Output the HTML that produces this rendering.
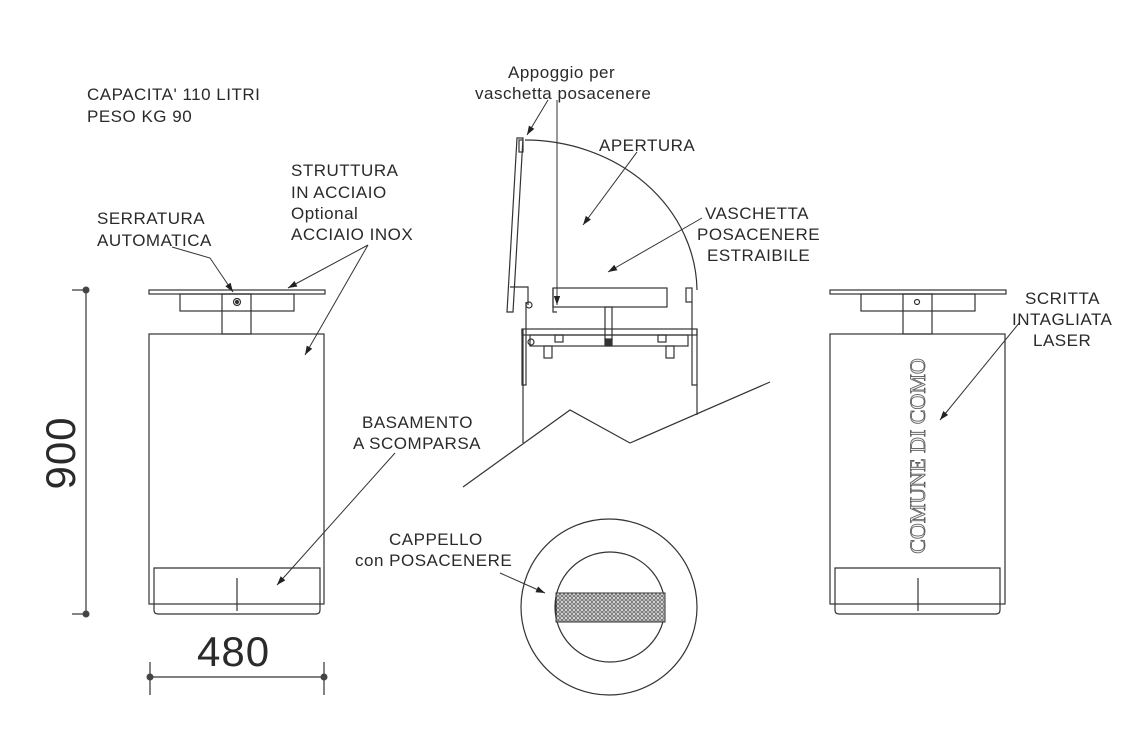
<!DOCTYPE html>
<html><head><meta charset="utf-8"><style>
html,body{margin:0;padding:0;background:#fff;}
svg{display:block;}
text{font-family:"Liberation Sans",sans-serif;fill:#2a2a2a;font-size:17px;letter-spacing:0.5px;}
</style></head><body>
<svg width="1145" height="738" viewBox="0 0 1145 738" xmlns="http://www.w3.org/2000/svg">
<defs>
<marker id="a" viewBox="0 0 10 10" refX="10" refY="5" markerWidth="17" markerHeight="9" orient="auto" markerUnits="userSpaceOnUse"><path d="M0,1.5 L10,5 L0,8.5 Z" fill="#222"/></marker>
<pattern id="h" width="4" height="4" patternUnits="userSpaceOnUse"><rect width="4" height="4" fill="#bbb"/><circle cx="2" cy="2" r="1.3" fill="#fff" stroke="#444" stroke-width="0.6"/></pattern>
</defs>
<g stroke="#333" stroke-width="1.2" fill="none">
<rect x="149" y="290" width="176" height="4"/>
<rect x="180" y="294" width="114" height="17"/>
<rect x="222" y="294" width="29" height="40"/>
<circle cx="237" cy="302" r="3.5"/><circle cx="237" cy="302" r="1.5" fill="#333"/>
<rect x="149" y="334" width="175" height="270"/>
<path d="M154,604 V568 H320 V604 M154,604 V610 Q154,614 158,614 H316 Q320,614 320,610 V604"/>
<line x1="237" y1="578" x2="237" y2="611"/>
<line x1="86" y1="290" x2="86" y2="614"/><line x1="72" y1="290" x2="86" y2="290"/><line x1="72" y1="614" x2="86" y2="614"/>
<line x1="150" y1="677" x2="324" y2="677"/><line x1="150" y1="662" x2="150" y2="695"/><line x1="324" y1="662" x2="324" y2="695"/>
<rect x="830" y="290" width="176" height="4"/>
<rect x="861" y="294" width="114" height="17"/>
<rect x="903" y="294" width="29" height="40"/>
<circle cx="917" cy="302" r="2.5"/>
<rect x="830" y="334" width="175" height="270"/>
<path d="M835,604 V568 H1000 V604 M835,604 V610 Q835,614 839,614 H996 Q1000,614 1000,610 V604"/>
<line x1="918" y1="578" x2="918" y2="611"/>
<path d="M517,138 L523,138 L513,312 L507,312 Z"/>
<rect x="519" y="140" width="4" height="12"/>
<path d="M525,140 A172 152 0 0 1 697,290"/>
<path d="M510,287 H528 V305"/>
<circle cx="529" cy="305" r="3"/>
<rect x="553" y="288" width="114" height="19"/>
<path d="M553,288 V312 H557"/>
<rect x="605" y="307" width="7" height="33"/>
<rect x="686" y="288" width="6" height="14"/>
<rect x="522" y="329" width="175" height="6"/>
<rect x="530" y="335" width="158" height="11"/>
<circle cx="531" cy="342" r="3"/>
<rect x="555" y="335" width="8" height="7"/><rect x="658" y="335" width="8" height="7"/>
<rect x="544" y="346" width="8" height="12"/><rect x="666" y="346" width="8" height="12"/>
<rect x="605" y="339" width="7" height="7" fill="#333"/>
<path d="M526,302 V385 L522,385 V329"/>
<path d="M692,302 V385 L697,385"/>
<line x1="523" y1="329" x2="523" y2="443"/>
<line x1="697" y1="329" x2="697" y2="415"/>
<path d="M463,487 L570,410 L630,443 L770,382"/>
<circle cx="609" cy="607" r="88"/>
<circle cx="610" cy="607" r="55"/>
</g>
<rect x="556" y="593" width="109" height="29" fill="url(#h)" stroke="#333" stroke-width="1"/>
<g fill="#444"><circle cx="86" cy="290" r="3.5"/><circle cx="86" cy="614" r="3.5"/><circle cx="150" cy="677" r="3.5"/><circle cx="324" cy="677" r="3.5"/></g>
<g stroke="#333" stroke-width="1" fill="none" marker-end="url(#a)">
<path d="M172,247 L210,258 L233,292"/>
<path d="M368,245 L288,288"/>
<path d="M368,245 L305,355"/>
<path d="M395,453 L277,585"/>
<path d="M548,100 L527,135"/>
<path d="M557,100 V305"/>
<path d="M637,152 L583,225"/>
<path d="M702,218 L608,272"/>
<path d="M1020,322 L940,420"/>
<path d="M500,573 L545,593"/>
</g>
<text x="87" y="100">CAPACITA' 110 LITRI</text>
<text x="87" y="122">PESO KG 90</text>
<text x="97" y="224">SERRATURA</text>
<text x="97" y="246">AUTOMATICA</text>
<text x="291" y="176">STRUTTURA</text>
<text x="291" y="198">IN ACCIAIO</text>
<text x="291" y="219">Optional</text>
<text x="291" y="240">ACCIAIO INOX</text>
<text x="508" y="78">Appoggio per</text>
<text x="475" y="99">vaschetta posacenere</text>
<text x="599" y="151">APERTURA</text>
<text x="705" y="219">VASCHETTA</text>
<text x="697" y="240">POSACENERE</text>
<text x="707" y="261">ESTRAIBILE</text>
<text x="1025" y="304">SCRITTA</text>
<text x="1012" y="325">INTAGLIATA</text>
<text x="1033" y="346">LASER</text>
<text x="362" y="428">BASAMENTO</text>
<text x="353" y="449">A SCOMPARSA</text>
<text x="389" y="545">CAPPELLO</text>
<text x="355" y="566">con POSACENERE</text>
<text x="197" y="666" style="font-size:42px;letter-spacing:1px">480</text>
<text transform="translate(75,453) rotate(-90)" text-anchor="middle" style="font-size:42px;letter-spacing:1px">900</text>
<text transform="translate(925,456) rotate(-90)" text-anchor="middle" style="font-family:'Liberation Serif',serif;font-size:22px;letter-spacing:0;fill:#eee;stroke:#555;stroke-width:0.8">COMUNE DI COMO</text>
</svg>
</body></html>
